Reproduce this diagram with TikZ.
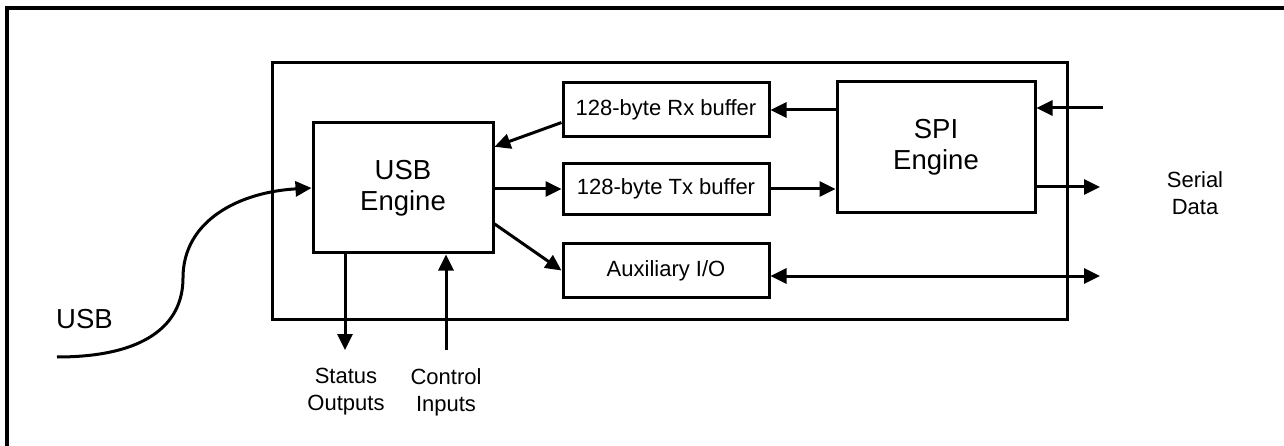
\documentclass[tikz,border=0pt]{standalone}
\usepackage{fontspec}
\setmainfont{Liberation Sans}
\usetikzlibrary{arrows.meta,calc}
\begin{document}
\begin{tikzpicture}[x=1pt,y=-1pt,
  ln/.style={line width=3pt},
  arr/.style={ln,-{Triangle[length=16pt,width=15pt]}},
  arrb/.style={ln,{Triangle[length=16pt,width=15pt]}-{Triangle[length=16pt,width=15pt]}},
  bigbox/.style={draw,line width=3pt,font=\fontsize{27.5}{31}\selectfont,align=center,inner sep=0pt},
  buf/.style={draw,line width=3pt,font=\fontsize{22}{24}\selectfont,align=center,inner sep=0pt,minimum width=206pt},
  lab/.style={font=\fontsize{22}{27}\selectfont,align=center,inner sep=0pt}]
\useasboundingbox (0,0) rectangle (1284,446);
\fill[white] (0,0) rectangle (1284,446);
% outer frame (only top and left visible)
\draw[line width=3.5pt] (7,446) -- (7,8) -- (1284,8);
% inner container
\node[draw,line width=3pt,minimum width=795pt,minimum height=256pt,inner sep=0pt] (cont) at (669.5,191) {};
% blocks
\node[bigbox,minimum width=180pt,minimum height=130pt] (usb) at (403,188) {USB\\Engine};
\node[bigbox,minimum width=198pt,minimum height=131pt] (spi) at (936,147.5) {SPI\\Engine};
\node[buf,minimum height=54pt] (rx) at (666,110) {128-byte Rx buffer};
\node[buf,minimum height=51pt] (tx) at (666,189) {128-byte Tx buffer};
\node[buf,minimum height=53pt] (aux) at (666,270.5) {Auxiliary I/O};
% labels
\node[lab,font=\fontsize{27.5}{30}\selectfont] (usblab) at (84.5,319) {USB};
\node[lab] (stlab) at (346,392) {Status\\Outputs};
\node[lab] (ctlab) at (446,392) {Control\\Inputs};
\node[lab] (serlab) at (1195,193) {Serial\\Data};
% free ends
\coordinate (usbstart) at (57,357);
\coordinate (st) at (345,350);
\coordinate (ct) at (446,350);
\coordinate (sin) at (1103,108);
\coordinate (sout) at (1100,187);
\coordinate (aout) at (1100,276);
% connectors
\draw[arr] (usbstart) .. controls (145,357) and (183,325) .. (183,278)
  .. controls (183,220) and (240,192) .. (usb.west);
\draw[arr] (spi.west |- rx.east) -- (rx.east);
\draw[arr] (sin) -- (sin -| spi.east);
\draw[arr] (sout -| spi.east) -- (sout);
\draw[arr] (tx.east) -- (tx.east -| spi.west);
\draw[arr] (usb.east |- tx.west) -- (tx.west);
\draw[arr] ($(rx.north west)!0.72!(rx.south west)$) -- ($(usb.north east)!0.19!(usb.south east)$);
\draw[arr] ($(usb.north east)!0.77!(usb.south east)$) -- (aux.west);
\draw[arrb] (aux.east |- aout) -- (aout);
\draw[arr] (st |- usb.south) -- (st);
\draw[arr] (ct) -- (ct |- usb.south);
\end{tikzpicture}
\end{document}
